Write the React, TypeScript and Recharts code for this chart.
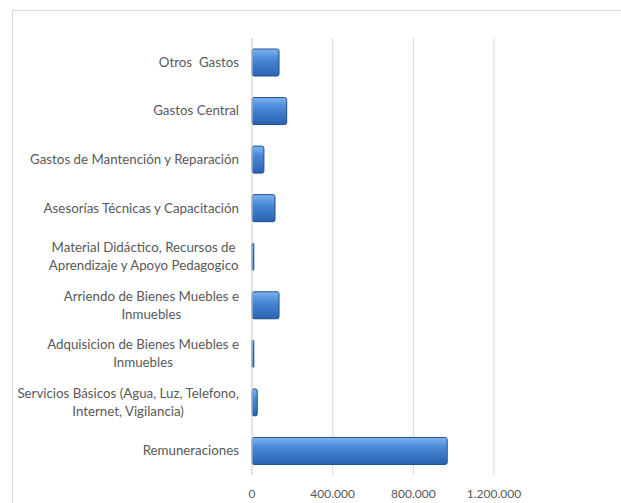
import React from "react";
import { BarChart, Bar, XAxis, YAxis, CartesianGrid } from "recharts";

const categories: string[][] = [
  ["Otros  Gastos"],
  ["Gastos Central"],
  ["Gastos de Mantención y Reparación"],
  ["Asesorías Técnicas y Capacitación"],
  ["Material Didáctico, Recursos de", "Aprendizaje y Apoyo Pedagogico"],
  ["Arriendo de Bienes Muebles e", "Inmuebles"],
  ["Adquisicion de Bienes Muebles e", "Inmuebles"],
  ["Servicios Básicos (Agua, Luz, Telefono,", "Internet, Vigilancia)"],
  ["Remuneraciones"],
];
const values: number[] = [134000, 172000, 59000, 114000, 9000, 134000, 9000, 26000, 968000];
const xTicks: number[] = [0, 400000, 800000, 1200000];

const data = categories.map((lines, i) => ({ name: lines.join("\n"), value: values[i] }));

const FONT = "Lato, 'Open Sans', sans-serif";
const CAT_SIZE = 13.3;

const fmt = (v: number) => String(v).replace(/\B(?=(\d{3})+(?!\d))/g, ".");

let ctx: CanvasRenderingContext2D | null = null;
const measure = (s: string) => {
  if (!ctx && typeof document !== "undefined") {
    ctx = document.createElement("canvas").getContext("2d");
  }
  if (!ctx) return s.length * CAT_SIZE * 0.5;
  ctx.font = `${CAT_SIZE}px Lato`;
  return ctx.measureText(s).width;
};

const CatTick = (props: any) => {
  const { x, y, payload } = props;
  const lines: string[] = String(payload.value).split("\n");
  const lh = 18;
  const start = -((lines.length - 1) * lh) / 2;
  const w = Math.max(...lines.map(measure));
  const cx = lines.length > 1 ? x - w / 2 : x;
  const anchor = lines.length > 1 ? "middle" : "end";
  return (
    <text
      x={cx}
      y={y}
      textAnchor={anchor}
      fill="#595959"
      fontSize={CAT_SIZE}
      fontFamily={FONT}
      style={{ whiteSpace: "pre" }}
    >
      {lines.map((l, i) => (
        <tspan key={i} x={cx} y={y + start + i * lh} dy="0.35em">
          {l}
        </tspan>
      ))}
    </text>
  );
};

export default function App() {
  return (
    <div
      style={{
        position: "absolute",
        left: 0,
        top: 0,
        width: 621,
        height: 503,
        overflow: "hidden",
        background: "#fff",
      }}
    >
      <div
        style={{
          position: "absolute",
          left: 12,
          top: 10,
          width: 700,
          height: 600,
          borderLeft: "1px solid #d9d9d9",
          borderTop: "1px solid #d9d9d9",
        }}
      />
      <div style={{ position: "absolute", left: 0, top: 0 }}>
        <BarChart
          width={621}
          height={503}
          data={data}
          layout="vertical"
          margin={{ top: 38, right: 127, bottom: 0, left: 0 }}
        >
          <defs>
            <linearGradient id="barGrad" x1="0" y1="0" x2="0" y2="1">
              <stop offset="0%" stopColor="#7fb4ee" />
              <stop offset="35%" stopColor="#4a8ad8" />
              <stop offset="100%" stopColor="#2a62b0" />
            </linearGradient>
          </defs>
          <CartesianGrid horizontal={false} stroke="#d9d9d9" />
          <XAxis
            type="number"
            domain={[0, 1200000]}
            ticks={xTicks}
            tickFormatter={fmt}
            axisLine={false}
            tickLine={false}
            tickMargin={8}
            height={28}
            tick={{ fill: "#595959", fontSize: 12, fontFamily: FONT }}
          />
          <YAxis
            type="category"
            dataKey="name"
            width={252}
            interval={0}
            axisLine={{ stroke: "#d9d9d9" }}
            tickLine={false}
            tickMargin={7}
            tick={<CatTick />}
          />
          <Bar
            dataKey="value"
            fill="url(#barGrad)"
            stroke="#1f4f8f"
            strokeWidth={1}
            barSize={27}
            radius={2}
            isAnimationActive={false}
          />
        </BarChart>
      </div>
    </div>
  );
}
